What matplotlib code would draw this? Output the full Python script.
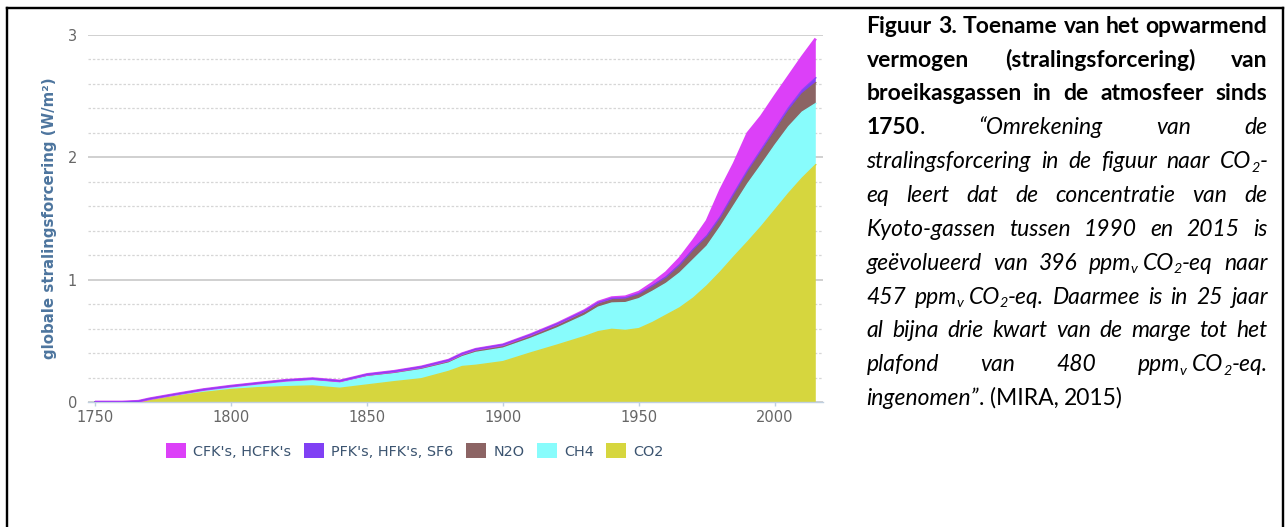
import numpy as np
import matplotlib
matplotlib.use("Agg")
import matplotlib.pyplot as plt
from matplotlib.patches import Patch
from matplotlib.lines import Line2D
from matplotlib.font_manager import FontProperties

# ---------------- data (W/m^2 per gas) ----------------
years = [1750, 1760, 1766, 1770, 1780, 1790, 1800, 1810, 1820, 1830, 1840, 1850,
         1860, 1870, 1880, 1885, 1890, 1900, 1910, 1920, 1930, 1935, 1940, 1945,
         1950, 1955, 1960, 1965, 1970, 1975, 1980, 1985, 1990, 1995, 2000, 2005,
         2010, 2015]
co2 = [0.000, 0.000, 0.003, 0.015, 0.048, 0.078, 0.102, 0.117, 0.125, 0.131,
       0.112, 0.139, 0.166, 0.190, 0.250, 0.290, 0.300, 0.330, 0.400, 0.466,
       0.535, 0.575, 0.594, 0.585, 0.600, 0.650, 0.710, 0.770, 0.850, 0.950,
       1.065, 1.190, 1.310, 1.435, 1.570, 1.705, 1.830, 1.940]
ch4 = [0.000, 0.000, 0.002, 0.008, 0.012, 0.018, 0.020, 0.027, 0.040, 0.045,
       0.045, 0.068, 0.065, 0.075, 0.068, 0.080, 0.105, 0.110, 0.118, 0.140,
       0.173, 0.200, 0.215, 0.227, 0.245, 0.255, 0.260, 0.285, 0.315, 0.325,
       0.370, 0.420, 0.475, 0.505, 0.530, 0.545, 0.540, 0.500]
n2o = [0.000, 0.000, 0.001, 0.003, 0.005, 0.006, 0.008, 0.010, 0.012, 0.015,
       0.015, 0.018, 0.020, 0.022, 0.024, 0.025, 0.026, 0.028, 0.030, 0.033,
       0.036, 0.037, 0.038, 0.040, 0.040, 0.045, 0.050, 0.065, 0.080, 0.080,
       0.075, 0.090, 0.100, 0.110, 0.115, 0.130, 0.150, 0.170]
pfk = [0.0] * 24 + [0.001, 0.002, 0.003, 0.004, 0.005, 0.005, 0.008, 0.010,
                    0.012, 0.015, 0.020, 0.025, 0.030, 0.040]
cfk = [0.0] * 18 + [0.001, 0.002, 0.004, 0.005, 0.006, 0.008, 0.012, 0.020,
                    0.035, 0.050, 0.070, 0.120, 0.215, 0.240, 0.300, 0.270,
                    0.265, 0.255, 0.270, 0.320]

legend_labels = ["CFK's, HCFK's", "PFK's, HFK's, SF6", "N2O", "CH4", "CO2"]
xticks = [1750, 1800, 1850, 1900, 1950, 2000]
yticks = [0, 1, 2, 3]
ylabel = "globale stralingsforcering (W/m²)"

# ---------------- styling ----------------
W, H = 1285, 527
c_cfk, c_pfk, c_n2o, c_ch4, c_co2 = "#dc40f8", "#8040f4", "#8c6464", "#88fcfc", "#d6d63e"

fig = plt.figure(figsize=(W / 100, H / 100), dpi=100)
fig.patch.set_facecolor("white")

ax = fig.add_axes([88 / W, 1 - 402 / H, (823 - 88) / W, (402 - 35) / H])
ax.stackplot(years, co2, ch4, n2o, pfk, cfk,
             colors=[c_co2, c_ch4, c_n2o, c_pfk, c_cfk], linewidth=0, zorder=2)

layers = np.cumsum(np.array([co2, ch4, n2o, pfk, cfk]), axis=0)
ax.plot(years, layers[0], color=c_co2, lw=1.0, zorder=3)
ax.plot(years, layers[1], color=c_ch4, lw=1.0, zorder=3)
ax.plot(years, layers[2], color=c_n2o, lw=1.0, zorder=3)
ax.plot(years, layers[4], color=c_cfk, lw=2.0, zorder=4, solid_capstyle="butt")
ax.plot(years, layers[3], color=c_pfk, lw=1.1, zorder=5, alpha=0.85)

ax.set_xlim(1747.43, 2017.65)
ax.set_ylim(0, 3)
ax.set_xticks(xticks)
ax.set_xticklabels([str(v) for v in xticks])
ax.set_yticks(yticks)
ax.set_yticklabels([str(v) for v in yticks])
ax.set_yticks(np.arange(0, 3.01, 0.2), minor=True)
ax.set_axisbelow(True)
ax.grid(which="major", axis="y", color="#c4c4c4", lw=1.1)
ax.grid(which="minor", axis="y", color="#d6d6d6", lw=0.9, ls=(0, (2, 1.5)))
ax.grid(which="major", axis="x", visible=False)
for s in ["top", "right", "left"]:
    ax.spines[s].set_visible(False)
ax.spines["bottom"].set_color("#c0d0e0")
ax.spines["bottom"].set_linewidth(1.0)
ax.tick_params(axis="y", which="both", length=0, pad=8, labelsize=10.5, labelcolor="#666666")
ax.tick_params(axis="x", length=3, width=1, color="#c0d0e0", pad=2.5,
               labelsize=10.5, labelcolor="#666666")
ax.set_ylabel(ylabel, color="#4d759e", fontweight="bold", fontsize=10.8)
ax.yaxis.set_label_coords(-0.042, 0.5)

handles = [Patch(facecolor=c, edgecolor="none") for c in [c_cfk, c_pfk, c_n2o, c_ch4, c_co2]]
fig.legend(handles, legend_labels, loc="center", bbox_to_anchor=(415 / W, 1 - 451 / H),
           ncol=5, frameon=False, fontsize=10.4, handlelength=1.4, handleheight=1.15,
           handletextpad=0.5, columnspacing=0.85, labelcolor="#3b5470")

# ---------------- border lines ----------------
lw_px = 2.4
fig.add_artist(Line2D([7 / W, 7 / W], [0, 1 - 8 / H], transform=fig.transFigure,
                      color="black", lw=lw_px * 0.72))
fig.add_artist(Line2D([1282.5 / W, 1282.5 / W], [0, 1 - 8 / H], transform=fig.transFigure,
                      color="black", lw=lw_px * 0.72))
fig.add_artist(Line2D([7 / W, 1282.5 / W], [1 - 8 / H, 1 - 8 / H], transform=fig.transFigure,
                      color="black", lw=lw_px * 0.72, solid_capstyle="projecting"))

# ---------------- justified caption ----------------
FAM = ["Lato", "DejaVu Sans"]
renderer = fig.canvas.get_renderer()


def fprop(kind, size):
    return FontProperties(family=FAM, weight="bold" if kind == "B" else "normal",
                          style="italic" if kind == "I" else "normal", size=size)


def measure(s, prop):
    t = fig.text(0, 0, s, fontproperties=prop)
    w = t.get_window_extent(renderer).width
    t.remove()
    return w


def words(s, kind):
    return [[(w, kind, False)] for w in s.split(" ")]


def CO2w(kind, tail):
    return [("CO", kind, False), ("2", kind, True), (tail, kind, False)]


def PPMw(kind, tail):
    return [("ppm", kind, False), ("v", kind, True), ("GAP", kind, False),
            ("CO", kind, False), ("2", kind, True), (tail, kind, False)]


lines = [
    words("Figuur 3. Toename van het opwarmend", "B"),
    words("vermogen (stralingsforcering) van", "B"),
    words("broeikasgassen in de atmosfeer sinds", "B"),
    [[("1750", "B", False), (".", "N", False)]] + words("“Omrekening van de", "I"),
    words("stralingsforcering in de figuur naar", "I") + [CO2w("I", "-")],
    words("eq leert dat de concentratie van de", "I"),
    words("Kyoto-gassen tussen 1990 en 2015 is", "I"),
    words("geëvolueerd van 396", "I") + [PPMw("I", "-eq")] + words("naar", "I"),
    words("457", "I") + [PPMw("I", "-eq.")] + words("Daarmee is in 25 jaar", "I"),
    words("al bijna drie kwart van de marge tot het", "I"),
    words("plafond van 480", "I") + [PPMw("I", "-eq.")],
    [[("ingenomen”", "I", False), (".", "N", False)],
     [("(MIRA,", "N", False)], [("2015)", "N", False)]],
]
justify = [True] * 11 + [False]

X0, X1 = 866.5, 1267.5
BASE0, STEP = 32.7, 33.85


def run_w(run, size):
    txt, kind, sub = run
    if txt == "GAP":
        return 0.22 * size / 0.72
    return measure(txt, fprop(kind, size * (0.62 if sub else 1.0)))


def word_w(word, size):
    return sum(run_w(r, size) for r in word)


def space_w(kind, size):
    p = fprop(kind, size)
    return measure("a a", p) - measure("aa", p)


ref = 20.0
nat_b = sum(word_w(w, ref) for w in lines[0]) + (len(lines[0]) - 1) * space_w("B", ref)
nat_i = sum(word_w(w, ref) for w in lines[9]) + (len(lines[9]) - 1) * space_w("I", ref)
size_b = min(ref * (X1 - X0) / nat_b, 16.5)
size_i = min(ref * (X1 - X0) / nat_i, 16.5)


def kind_size(kind):
    return size_b if kind == "B" else size_i


for li, line in enumerate(lines):
    base = BASE0 + li * STEP
    ws = [sum(run_w(r, kind_size(r[1])) for r in w) for w in line]
    if justify[li] and len(line) > 1:
        gap = (X1 - X0 - sum(ws)) / (len(line) - 1)
    else:
        gap = space_w("I", size_i)
    x = X0
    for w, wwidth in zip(line, ws):
        xx = x
        for (txt, kind, sub) in w:
            s = kind_size(kind)
            if txt == "GAP":
                xx += 0.22 * s / 0.72
                continue
            ss = s * (0.62 if sub else 1.0)
            yy = base + (0.16 * s / 0.72 if sub else 0)
            t = fig.text(xx / W, 1 - yy / H, txt, fontproperties=fprop(kind, ss),
                         ha="left", va="baseline", color="black")
            xx += t.get_window_extent(renderer).width
        x += wwidth + gap

fig.savefig("out.png", dpi=100, facecolor="white")
